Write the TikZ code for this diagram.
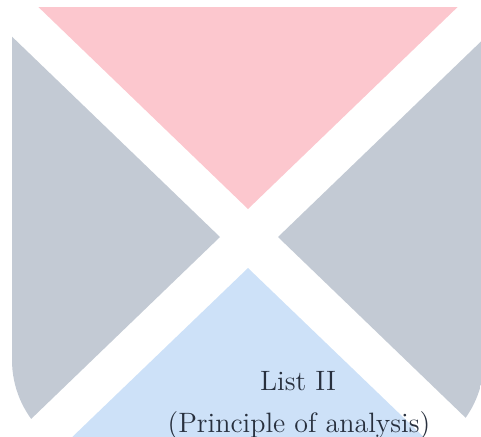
\documentclass[tikz,border=0pt]{standalone}
\definecolor{toppink}{RGB}{252,199,206}
\definecolor{sidegray}{RGB}{195,202,212}
\definecolor{lowblue}{RGB}{205,225,248}
\definecolor{inkgray}{RGB}{40,48,62}
\begin{document}
\begin{tikzpicture}
  [x=0.5pt,y=-0.5pt,every node/.style={text=inkgray,font=\fontsize{14}{21}\selectfont}]
  \useasboundingbox (0,0) rectangle (481,436);
  \begin{scope}
    \clip (12,7) [rounded corners=50pt] -- (12,460) -- (484,460) [sharp corners] -- (484,7) -- cycle;
    \foreach \col/\a/\b/\c in {toppink/{248,209}/{28,-3}/{468,-3},
                              sidegray/{220,237}/{-80,-52}/{-80,526},
                              sidegray/{278,237}/{578,-52}/{578,526},
                              lowblue/{248,268}/{-64,568}/{560,568}}
      \fill[\col] (\a) -- (\b) -- (\c) -- cycle;
  \end{scope}

  \node[anchor=base] (head) at (298,390) {List II};
  \node[anchor=base] (sub) at (299,432) {(Principle of analysis)};
\end{tikzpicture}
\end{document}
